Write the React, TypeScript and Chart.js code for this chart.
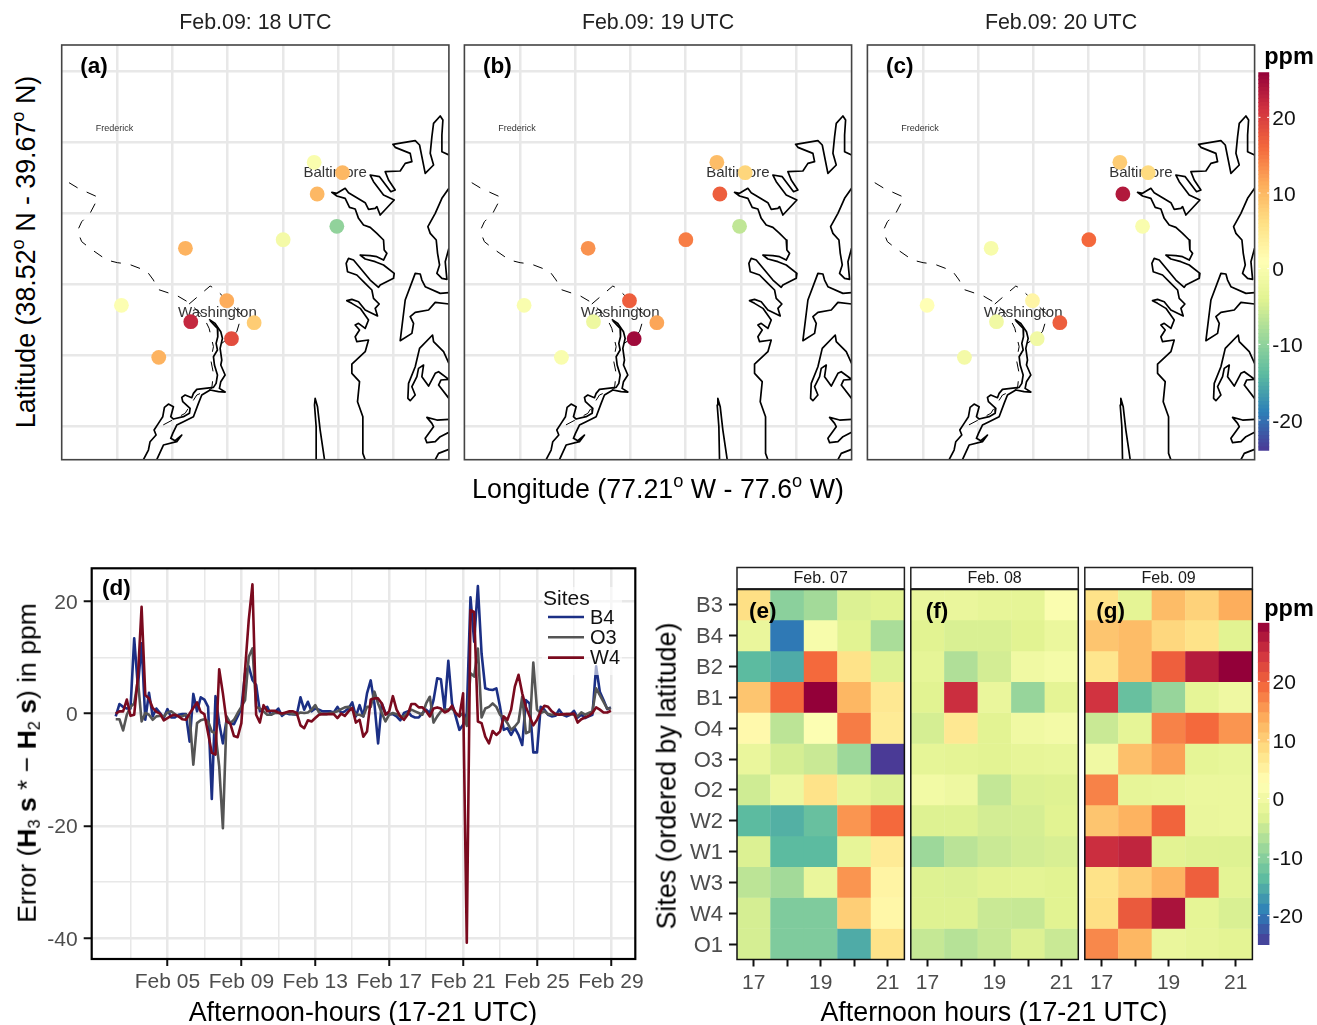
import React, { useEffect, useRef } from 'react';
import { Chart, registerables } from 'chart.js';
Chart.register(...registerables);

const FONT = '"Liberation Sans", Arial, sans-serif';

// ---------- map data (map units: 3 per screen pixel of the reference's panel) ----------
const SITE_X = [942, 1027, 951, 1010, 849, 556, 680, 364, 572, 762, 694, 476];
const SITE_Y = [487, 518, 582, 679, 719, 745, 902, 916, 965, 968, 1016, 1072];
const PPM_18UTC = [0, 10, 10, -10, -1, 10.5, 11, 0.5, 22, 8, 18.5, 10.5];
const PPM_19UTC = [9.5, 7, 17, -6.5, 14.5, 13, 17, 0, -2, 11.5, 25, 0];
const PPM_20UTC = [8, 6.5, 23.5, 0, 16, -0.5, 2.5, 1, -1.5, 17, -1.5, -1];
const CITY_NAMES = ['Frederick', 'Baltimore', 'Washington'];
const CITY_X = [343, 1005, 652];
const CITY_Y = [386, 518, 939];
const CITY_SIZES = [9, 15, 15];
const MAP_TITLES = ['Feb.09: 18 UTC', 'Feb.09: 19 UTC', 'Feb.09: 20 UTC'];
const MAP_TAGS = ['(a)', '(b)', '(c)'];
const LON_TICKS = [-77.4, -77.2, -77.0, -76.8, -76.6, -76.4];
const LAT_TICKS = [38.6, 38.8, 39.0, 39.2, 39.4, 39.6];

type P = [number, number];
const POTOMAC_W: P[] = [[630,962],[652,985],[653,1010],[648,1030],[652,1050],[640,1070],[643,1095],[652,1125],[648,1150],[640,1162],[590,1168],[580,1180],[575,1193],[555,1185],[545,1192],[548,1205],[570,1225],[568,1240],[550,1250],[520,1257],[512,1250],[520,1220],[505,1212],[493,1222],[488,1250],[475,1270],[462,1290],[468,1305],[450,1325],[445,1350],[430,1379]];
const POTOMAC_E: P[] = [[627,958],[645,970],[662,995],[667,1015],[660,1045],[665,1080],[662,1095],[675,1125],[662,1145],[658,1165],[675,1176],[655,1175],[630,1170],[605,1185],[595,1210],[580,1250],[550,1265],[530,1275],[518,1300],[512,1315],[525,1322],[545,1305],[530,1325],[490,1335],[470,1379]];
const SPIT: P[] = [[950,1379],[948,1280],[943,1215],[945,1195],[952,1220],[960,1290],[973,1379]];
const BAY_WEST: P[] = [[1346,465],[1325,455],[1325,405],[1328,360],[1320,348],[1300,370],[1295,410],[1290,460],[1300,495],[1275,520],[1258,435],[1245,422],[1178,433],[1185,442],[1230,460],[1235,485],[1215,490],[1200,513],[1155,515],[1165,540],[1185,570],[1172,575],[1138,530],[1110,525],[1120,545],[1150,585],[1182,600],[1140,645],[1130,620],[1125,625],[1105,628],[1095,608],[1045,578],[1035,565],[1010,580],[995,577],[1010,588],[1035,595],[1048,622],[1065,627],[1075,655],[1090,675],[1110,682],[1130,700],[1150,720],[1152,750],[1160,760],[1150,780],[1130,770],[1110,767],[1080,765],[1095,777],[1125,785],[1150,795],[1182,820],[1180,835],[1140,855],[1135,862],[1110,840],[1085,810],[1060,780],[1045,775],[1038,790],[1042,815],[1070,825],[1095,850],[1115,870],[1120,895],[1137,912],[1125,925],[1132,948],[1095,930],[1075,905],[1055,898],[1040,902],[1055,910],[1080,925],[1105,960],[1095,985],[1075,970],[1065,975],[1078,990],[1065,1010],[1070,1025],[1105,1020],[1095,1055],[1055,1092],[1055,1120],[1078,1145],[1072,1205],[1088,1250],[1088,1360],[1095,1379]];
const EAST_1: P[] = [[1346,565],[1325,595],[1305,640],[1283,680],[1290,700],[1308,720],[1312,760],[1318,795],[1310,820],[1325,835],[1340,838],[1335,785],[1346,745]];
const EAST_2: P[] = [[1346,878],[1320,880],[1275,860],[1265,840],[1260,822],[1245,820],[1215,900],[1200,1022],[1235,1000],[1240,970],[1230,950],[1245,937],[1285,930],[1305,907],[1346,912]];
const EAST_3: P[] = [[1346,1090],[1330,1055],[1300,1025],[1297,1005],[1258,1045],[1245,1100],[1225,1150],[1223,1195],[1230,1202],[1245,1185],[1235,1160],[1250,1130],[1255,1105],[1270,1095],[1265,1130],[1285,1158],[1305,1120],[1315,1115],[1346,1138],[1322,1140],[1315,1155],[1346,1195]];
const EAST_4: P[] = [[1346,1258],[1310,1260],[1280,1252],[1295,1270],[1300,1280],[1275,1315],[1280,1328],[1305,1325],[1320,1310],[1346,1297]];
const EAST_5: P[] = [[1305,1379],[1315,1360],[1346,1348]];
const COASTS = [POTOMAC_W, POTOMAC_E, SPIT, BAY_WEST, EAST_1, EAST_2, EAST_3, EAST_4, EAST_5];
const BORDER_1: P[] = [[207,548],[235,565],[295,592],[270,640],[245,665],[232,693],[245,725],[270,745],[320,780],[352,788],[385,792],[440,813],[460,840],[473,868],[533,888],[567,908],[610,950],[627,985],[640,1040],[632,1080],[640,1120],[635,1165],[590,1185],[555,1240],[485,1277]];
const BORDER_2: P[] = [[567,912],[630,858],[645,866],[725,945],[710,995],[665,1030]];
const BORDERS = [BORDER_1, BORDER_2];

// ---------- (d) series ----------
const B4 = [-0.5,1.7,1.2,0.9,0.9,13.4,4.8,12.5,-1.1,3.7,-0.5,0.9,0.1,-0.8,0.8,-0.7,-0.7,-0.2,-0.1,-0.1,-5,3.5,0.4,2.9,2.5,1.2,-15.2,3.1,-1.7,-5.3,-1.1,-1.7,-1.9,-0.5,0.9,7.2,8.4,6,5.1,0.4,0.9,1.2,-0.2,0.2,0.9,-0.4,0.1,-0.1,-0.1,-0.2,2.9,0.7,2.1,0.4,0.9,0.7,0.4,0.4,0.4,0.2,1.2,0.1,0.4,0.9,2,-0.5,1.5,-0.5,3.6,5.9,1.8,-5.3,1.8,0.1,-0.1,-0.1,-0.5,-1.2,0.1,0.4,-0.4,-0.7,-0.7,0.1,0.7,0.1,2.4,6.3,6.1,0.7,9.4,1.8,-0.5,-2.9,-2,0.1,20.7,12.8,22.7,10.7,4.5,4.3,4.2,4.5,1.2,-2.9,-2.6,-3.8,-2.6,-3.8,-5.6,2.4,1.8,-6.9,-6.9,1.2,0.7,-0.2,-0.5,-0.4,0.7,-0.2,-0.5,-0.2,0.5,-0.7,-0.2,-0.8,-0.5,-0.2,8.4,3.9,2.4,0.8,1.1];
const O3 = [-1,-1,-3,-0.2,1.2,1.8,6,-1.4,0.1,-0.2,-1.1,-0.5,-0.4,-0.5,0.2,0.4,-0.1,-0.5,-0.5,-0.2,-0.5,-9.1,-1.7,-1.2,-1,-1.4,-3.2,-3.5,-9.4,-20.4,-0.5,-1.7,-1.1,0.1,1.2,2.4,10.1,11.6,1.2,0.9,0.4,-0.2,-0.2,0.1,0.1,-0.1,0.1,0.1,-0.1,-0.1,0.2,0.1,0.2,0.7,1.5,0.2,-0.1,-0.1,0.1,0.2,0.4,0.8,1.1,1.2,0.7,-0.2,-0.2,-0.5,1.2,1.2,3.9,1.8,0.1,-1.4,-0.2,0.1,-0.1,-0.5,-0.5,0.1,0.7,0.4,0.1,-0.2,1.8,3,-1.6,-0.5,0.4,0.7,0.7,0.9,0.1,-0.5,0.1,-2.2,7.2,6.6,11.6,-0.7,0.9,1.2,1.8,1.2,-0.2,-0.8,-1.7,-2.9,-2.3,-1.5,3,-3.5,-3.2,9.1,0.7,0.1,0.4,-0.1,-0.2,-0.1,-0.1,-0.2,-0.1,-0.1,-0.2,-0.5,0.2,-0.2,0.1,0.4,4.5,3.3,2.1,0.9,0.9];
const W4 = [0,0.4,0.4,2.5,-0.4,-0.2,6.5,19,3.3,2.7,1,0.3,0,-1.2,-0.8,-0.4,-0.2,-0.5,-1,-1.1,0,1,2,0.3,-0.1,-3.5,-7,-7.3,7.9,3.6,-1.4,-1.8,-4,-4.2,-1.7,7.8,16.7,23,-0.2,-1.6,1.5,0.4,0.5,0.5,0.2,0,0.2,0.4,0.4,0.1,-2.1,-2.6,-1.2,-1.4,-0.8,-0.2,-0.1,-0.1,-0.1,-0.1,-0.8,0,-0.4,0.4,1,-1.6,-1.1,-4.1,-3.2,2.5,2.7,2.7,1.8,-0.2,0.4,3.1,0.7,-0.5,-1.1,-0.2,1.7,1.7,1.1,1.1,0.4,-0.5,0.9,1.1,0.9,0.2,0.5,1.4,0.1,-0.5,3.6,-40.8,18.4,18.1,-1.4,-1.7,-4.1,-5.3,-3.1,-3.8,-3.2,-0.5,-1.1,0.7,4.8,6.9,3.6,1.2,-0.5,-2.1,-1.1,0.4,1.4,1.2,0.4,-0.1,-0.2,-0.1,-0.1,-0.1,0,-1.6,-1,-0.7,-0.4,0.1,1.1,0.7,0.2,0.2,0.5];
const SERIES_NAMES = ['B4', 'O3', 'W4'];
const SERIES_COLORS = ['#1B2F85', '#555555', '#7A0A1E'];
const DAY_MAJOR = [5, 9, 13, 17, 21, 25, 29];
const DAY_MINOR = [3, 7, 11, 15, 19, 23, 27];
const DAY_LABELS = ['Feb 05', 'Feb 09', 'Feb 13', 'Feb 17', 'Feb 21', 'Feb 25', 'Feb 29'];
const ERR_MAJOR = [-40, -20, 0, 20];
const ERR_MINOR = [-30, -10, 10];

// ---------- (e)(f)(g) heatmaps ----------
const SITES = ['B3', 'B4', 'B2', 'B1', 'O4', 'O3', 'O2', 'W2', 'W1', 'W3', 'W4', 'O1'];
const HOURS = ['17', '18', '19', '20', '21'];
const FEB07 = [[8,-10,-8,-3.5,-3],[-1.5,-20,1,-3,-7.5],[-14,-15.5,19,7.5,-3.2],[11,19,30,12.5,6.5],[3.5,-6,2,17.5,6],[-1.5,-4,-5,-8.5,-25],[-4.5,-1,7.5,-2,-3.5],[-14,-15,-13,15.5,19],[-3.5,-14,-14,-2,6],[-6,-8,-1.5,15.5,4.5],[-4,-11,-11,10,4],[-4,-11,-11,-15.5,7.5]];
const FEB08 = [[-1.5,-1.5,-2,-2.2,1.5],[-3,-3.7,-3.7,-3,-1.2],[-2.2,-7,-4.2,-0.3,0.5],[-3,25,-1.5,-9,-2.5],[-4,6.5,-2.8,-0.3,0.3],[-2.2,-2.5,-2.8,-2,-1.8],[0,-0.7,-5.5,-3.5,-3.2],[-3.3,-3.3,-4.2,-4,-3],[-8.5,-6.2,-5,-4.3,-3.8],[-3.3,-3.5,-2.8,-2.6,-3],[-3.2,-3.2,-5,-5.2,-3],[-5.3,-6.5,-5.2,-3.4,-5]];
const FEB09 = [[7.5,-2.5,12,9.5,13.5],[11,12,9,7.5,-3],[7,12,20,27,30],[24.5,-13,-9,-2.2,-0.5],[-5,-2.2,17,19,15.5],[-0.3,11.5,14.5,-2.3,-1.8],[17,-2,-1.8,-1.2,-1.2],[11,13,19.5,-1.5,-1.2],[25,26,-2.8,-3.2,-3.3],[7.5,10,12.8,20,-2.6],[8,20.5,28,-2.3,-3.7],[16.5,12.5,-1.5,-2,-2.7]];

const SPECTRAL = ['#4A3A96', '#2C7FB8', '#5CBBA0', '#9DD89A', '#E2F392', '#FFFFB5', '#FEE085', '#FDAE5C', '#F4693C', '#D13340', '#930039'];
const PPM_TICKS = [-20, -10, 0, 10, 20];

const hex = (s: string) => [1, 3, 5].map((i) => parseInt(s.slice(i, i + 2), 16));
function spectral(v: number, lo: number, hi: number) {
  const t = Math.max(0, Math.min(0.99999, (v - lo) / (hi - lo))) * 10;
  const i = Math.floor(t);
  const f = t - i;
  const a = hex(SPECTRAL[i]);
  const b = hex(SPECTRAL[i + 1]);
  return `rgb(${a.map((c, k) => Math.round(c + (b[k] - c) * f)).join(',')})`;
}

type R = { l: number; t: number; r: number; b: number };
const MAP_RANGE = { lo: -24.05, hi: 25.95 };
const HEAT_RANGE = { lo: -25, hi: 30 };
const LON0 = -77.601, LON1 = -76.199, LAT0 = 38.507, LAT1 = 39.675;
const toLon = (u: number) => LON0 + ((u - 185) / 1161) * (LON1 - LON0);
const toLat = (v: number) => LAT1 - ((v - 135) / 1244) * (LAT1 - LAT0);

const frame = (color: string, w: number) => ({
  id: 'frame',
  afterDatasetsDraw(c: any) {
    const a = c.chartArea, x = c.ctx;
    x.save(); x.strokeStyle = color; x.lineWidth = w;
    x.strokeRect(a.left, a.top, a.right - a.left, a.bottom - a.top);
    x.restore();
  },
});

function mapConfig(values: number[]) {
  const lines = COASTS.map((p) => ({
    type: 'scatter', showLine: true, pointRadius: 0, borderColor: '#000', borderWidth: 1.7, tension: 0, order: 2,
    borderJoinStyle: 'round', data: p.map(([u, v]) => ({ x: toLon(u), y: toLat(v) })),
  }));
  const dashes = BORDERS.map((p) => ({
    type: 'scatter', showLine: true, pointRadius: 0, borderColor: '#000', borderWidth: 1, borderDash: [10, 10], tension: 0, order: 3,
    data: p.map(([u, v]) => ({ x: toLon(u), y: toLat(v) })),
  }));
  const sites = {
    type: 'scatter', order: 0, pointRadius: 7.4, borderWidth: 0, pointBorderWidth: 0,
    backgroundColor: values.map((v) => spectral(v, MAP_RANGE.lo, MAP_RANGE.hi)),
    pointBackgroundColor: values.map((v) => spectral(v, MAP_RANGE.lo, MAP_RANGE.hi)),
    data: SITE_X.map((u, i) => ({ x: toLon(u), y: toLat(SITE_Y[i]) })),
  };
  const grid = { color: '#E8E8E8', lineWidth: 2.5, drawTicks: false };
  return {
    type: 'scatter',
    data: { datasets: [sites, ...lines, ...dashes] },
    options: {
      scales: {
        x: { type: 'linear', min: LON0, max: LON1, grid, border: { display: false }, ticks: { display: false },
          afterBuildTicks: (s: any) => { s.ticks = LON_TICKS.map((value) => ({ value })); } },
        y: { type: 'linear', min: LAT0, max: LAT1, grid, border: { display: false }, ticks: { display: false },
          afterBuildTicks: (s: any) => { s.ticks = LAT_TICKS.map((value) => ({ value })); } },
      },
    },
    plugins: [
      {
        id: 'cities',
        beforeDatasetsDraw(c: any) {
          const x = c.ctx;
          x.save(); x.fillStyle = '#333'; x.textAlign = 'center'; x.textBaseline = 'middle';
          CITY_NAMES.forEach((n, i) => {
            x.font = `${CITY_SIZES[i]}px ${FONT}`;
            x.fillText(n, c.scales.x.getPixelForValue(toLon(CITY_X[i])), c.scales.y.getPixelForValue(toLat(CITY_Y[i])));
          });
          x.restore();
        },
      },
      frame('#444', 1.6),
    ],
  };
}

function errorConfig() {
  const series = [B4, O3, W4];
  const order = [3, 2, 1];
  const tickFont = { family: FONT, size: 21 };
  const isMajor = (list: number[], v: number) => list.includes(v);
  return {
    type: 'scatter',
    data: {
      datasets: series.map((vals, k) => ({
        label: SERIES_NAMES[k], showLine: true, pointRadius: 0, borderColor: SERIES_COLORS[k], borderWidth: 2.6, tension: 0,
        borderJoinStyle: 'round', order: order[k],
        data: vals.map((y, i) => ({ x: 2.2 + 0.2 * i, y })),
      })),
    },
    options: {
      scales: {
        x: {
          type: 'linear', min: 0.9, max: 30.32, border: { display: false },
          afterBuildTicks: (s: any) => { s.ticks = [...DAY_MINOR, ...DAY_MAJOR].sort((a, b) => a - b).map((value) => ({ value })); },
          grid: {
            color: '#E8E8E8', lineWidth: (c: any) => (isMajor(DAY_MAJOR, c.tick?.value) ? 2.5 : 1.5),
            tickColor: (c: any) => (isMajor(DAY_MAJOR, c.tick?.value) ? '#111' : 'rgba(0,0,0,0)'), tickWidth: 2, tickLength: 7,
          },
          ticks: { autoSkip: false, maxRotation: 0, padding: 4, color: '#4D4D4D', font: tickFont,
            callback: (v: number) => { const i = DAY_MAJOR.indexOf(v); return i < 0 ? '' : DAY_LABELS[i]; } },
        },
        y: {
          type: 'linear', min: -43.7, max: 25.87, border: { display: false },
          afterBuildTicks: (s: any) => { s.ticks = [...ERR_MINOR, ...ERR_MAJOR].sort((a, b) => a - b).map((value) => ({ value })); },
          grid: {
            color: '#E8E8E8', lineWidth: (c: any) => (isMajor(ERR_MAJOR, c.tick?.value) ? 2.5 : 1.5),
            tickColor: (c: any) => (isMajor(ERR_MAJOR, c.tick?.value) ? '#111' : 'rgba(0,0,0,0)'), tickWidth: 2, tickLength: 8,
          },
          ticks: { autoSkip: false, padding: 6, labelOffset: 1.7, color: '#4D4D4D', font: tickFont,
            callback: (v: number) => (isMajor(ERR_MAJOR, v) ? String(v) : '') },
        },
      },
    },
    plugins: [
      {
        id: 'sitesLegend',
        afterDatasetsDraw(c: any) {
          const x = c.ctx;
          x.save();
          x.fillStyle = 'rgba(255,255,255,0.6)';
          x.fillRect(512, 42, 80, 88);
          x.fillStyle = '#111'; x.textBaseline = 'middle'; x.textAlign = 'left';
          x.font = `21px ${FONT}`;
          x.fillText('Sites', 513, 54);
          c.data.datasets.forEach((d: any, i: number) => {
            const y = 72 + i * 20.3;
            x.strokeStyle = d.borderColor; x.lineWidth = 2.6;
            x.beginPath(); x.moveTo(518, y); x.lineTo(554, y); x.stroke();
            x.font = `20px ${FONT}`;
            x.fillText(d.label, 560, y + 1);
          });
          x.restore();
        },
      },
      frame('#000', 2.2),
    ],
  };
}

function heatConfig(values: number[][], showY: boolean) {
  const n = SITES.length;
  const tickFont = { family: FONT, size: 21 };
  return {
    type: 'bar',
    data: {
      labels: HOURS,
      datasets: values.map((row, r) => ({
        label: SITES[r], grouped: false, barPercentage: 1.01, categoryPercentage: 1, borderWidth: 0,
        data: row.map(() => [n - 1 - r, n - r + 0.015]),
        backgroundColor: row.map((v) => spectral(v, HEAT_RANGE.lo, HEAT_RANGE.hi)),
      })),
    },
    options: {
      scales: {
        x: {
          type: 'category', border: { display: false },
          grid: { offset: false, drawOnChartArea: false, tickColor: '#111', tickWidth: 2, tickLength: 7 },
          ticks: { autoSkip: false, maxRotation: 0, padding: 4, color: '#4D4D4D', font: tickFont,
            callback: (_: any, i: number) => (i % 2 === 0 ? HOURS[i] : '') },
        },
        y: {
          type: 'linear', min: 0, max: n, border: { display: false },
          afterBuildTicks: (s: any) => { s.ticks = SITES.map((_, i) => ({ value: i + 0.5 })); },
          grid: { drawOnChartArea: false, drawTicks: showY, tickColor: '#111', tickWidth: 2, tickLength: 8 },
          ticks: { display: showY, autoSkip: false, padding: 6, labelOffset: 1.5, color: '#4D4D4D', font: { family: FONT, size: 22 },
            callback: (v: number) => SITES[n - 1 - Math.floor(v)] },
        },
      },
    },
    plugins: [
      {
        id: 'strip',
        afterDraw(c: any) {
          const a = c.chartArea, x = c.ctx;
          x.save(); x.fillStyle = '#fff'; x.strokeStyle = '#222'; x.lineWidth = 1.5;
          x.fillRect(a.left, a.top - 22, a.right - a.left, 21.3);
          x.strokeRect(a.left, a.top - 22, a.right - a.left, 21.3);
          x.restore();
        },
      },
      frame('#111', 1.5),
    ],
  };
}

function barConfig(range: { lo: number; hi: number }, step: number, tickPad: number) {
  const values: number[] = [];
  for (let v = range.lo; v < range.hi - 1e-6; v += step) values.push(v);
  return {
    type: 'bar',
    data: {
      labels: [''],
      datasets: values.map((v) => ({
        grouped: false, barPercentage: 1, categoryPercentage: 1, borderWidth: 0,
        data: [[v, Math.min(v + step * 1.05, range.hi)]],
        backgroundColor: spectral(v + step / 2, range.lo, range.hi),
      })),
    },
    options: {
      scales: {
        x: { type: 'category', display: false },
        y: {
          type: 'linear', position: 'right', min: range.lo, max: range.hi, border: { display: false },
          afterBuildTicks: (s: any) => { s.ticks = PPM_TICKS.map((value) => ({ value })); },
          grid: { display: false, drawTicks: false },
          ticks: { padding: tickPad, labelOffset: 2, autoSkip: false, color: '#111', font: { family: FONT, size: 21 }, callback: (v: number) => String(v) },
        },
      },
    },
    plugins: [
      {
        id: 'whiteTicks',
        afterDatasetsDraw(c: any) {
          const a = c.chartArea, x = c.ctx, w = (a.right - a.left) / 5;
          x.save(); x.strokeStyle = '#fff'; x.lineWidth = 1;
          PPM_TICKS.forEach((t) => {
            const y = c.scales.y.getPixelForValue(t);
            x.beginPath();
            x.moveTo(a.left, y); x.lineTo(a.left + w, y);
            x.moveTo(a.right - w, y); x.lineTo(a.right, y);
            x.stroke();
          });
          x.restore();
        },
      },
    ],
  };
}

// Fixes the plot rectangle inside a canvas, whatever the axes would ask for.
function place(cfg: any, canvas: R, plot: R, yRight = false) {
  const o = cfg.options;
  o.responsive = false; o.maintainAspectRatio = false; o.animation = false;
  o.plugins = { legend: { display: false }, tooltip: { enabled: false }, title: { display: false } };
  const xVisible = o.scales.x.display !== false;
  o.layout = { autoPadding: false, padding: {
    top: plot.t - canvas.t,
    right: yRight ? 0 : canvas.r - plot.r,
    left: yRight ? plot.l - canvas.l : 0,
    bottom: xVisible ? 0 : canvas.b - plot.b,
  } };
  o.scales.y.afterFit = (s: any) => { s.width = yRight ? canvas.r - plot.r : plot.l - canvas.l; };
  if (xVisible) o.scales.x.afterFit = (s: any) => { s.height = canvas.b - plot.b; };
  return cfg;
}

const MAP_PLOTS: R[] = [
  { l: 61.7, t: 45, r: 448.9, b: 459.7 },
  { l: 464.4, t: 45, r: 851.6, b: 459.7 },
  { l: 867.4, t: 45, r: 1254.6, b: 459.7 },
];
const HEAT_PLOTS: R[] = [
  { l: 737, t: 589.5, r: 904.4, b: 959.5 },
  { l: 910.8, t: 589.5, r: 1078.3, b: 959.5 },
  { l: 1084.8, t: 589.5, r: 1252.4, b: 959.5 },
];
const rect = (l: number, t: number, r: number, b: number): R => ({ l, t, r, b });

const PANELS: { canvas: R; make: () => any }[] = [
  ...[PPM_18UTC, PPM_19UTC, PPM_20UTC].map((v, i) => {
    const p = MAP_PLOTS[i];
    const canvas = rect(Math.floor(p.l) - 4, 30, Math.ceil(p.r) + 4, 475);
    return { canvas, make: () => place(mapConfig(v), canvas, p) };
  }),
  { canvas: rect(1250, 45, 1317, 475), make: () => place(barConfig(MAP_RANGE, 0.5, 3), rect(1250, 45, 1317, 475), rect(1258.3, 72.3, 1269.3, 450.7), true) },
  { canvas: rect(30, 545, 650, 1000), make: () => place(errorConfig(), rect(30, 545, 650, 1000), rect(91.7, 568.3, 635.3, 959)) },
  ...[FEB07, FEB08, FEB09].map((v, i) => {
    const p = HEAT_PLOTS[i];
    const canvas = i === 0 ? rect(680, 545, 908, 1000) : rect(Math.floor(p.l) - 3, 545, Math.ceil(p.r) + 2, 1000);
    return { canvas, make: () => place(heatConfig(v, i === 0), canvas, p) };
  }),
  { canvas: rect(1250, 600, 1317, 975), make: () => place(barConfig(HEAT_RANGE, 1.72, 3), rect(1250, 600, 1317, 975), rect(1257.8, 622.7, 1269.5, 945), true) },
];

function Txt({ x, y, size, bold, rot, color, left, children }: any) {
  const transform = `translate(${left ? '0' : '-50%'},-50%)${rot ? ' rotate(-90deg)' : ''}`;
  return (
    <div style={{ position: 'absolute', left: x, top: y, transform, whiteSpace: 'nowrap', fontFamily: FONT,
      fontSize: size, fontWeight: bold ? 700 : 400, color: color || '#000', lineHeight: 1 }}>
      {children}
    </div>
  );
}
const Sup = ({ children }: any) => <sup style={{ fontSize: '0.68em', lineHeight: 0, verticalAlign: '0.6em' }}>{children}</sup>;
const Sub = ({ children }: any) => <sub style={{ fontSize: '0.62em', lineHeight: 0, verticalAlign: '-0.25em' }}>{children}</sub>;

export default function App() {
  const refs = useRef<(HTMLCanvasElement | null)[]>([]);
  useEffect(() => {
    const charts = PANELS.map((p, i) => new Chart(refs.current[i] as any, p.make()));
    return () => charts.forEach((c) => c.destroy());
  }, []);
  return (
    <div style={{ position: 'absolute', left: 0, top: 0, width: 1317, height: 1025, background: '#fff', overflow: 'hidden' }}>
      {PANELS.map((p, i) => (
        <canvas key={i} ref={(el) => { refs.current[i] = el; }} width={p.canvas.r - p.canvas.l} height={p.canvas.b - p.canvas.t}
          style={{ position: 'absolute', left: p.canvas.l, top: p.canvas.t, width: p.canvas.r - p.canvas.l, height: p.canvas.b - p.canvas.t }} />
      ))}
      {MAP_TITLES.map((t, i) => (
        <Txt key={t} x={(MAP_PLOTS[i].l + MAP_PLOTS[i].r) / 2} y={22.5} size={21.4} color="#222">{t}</Txt>
      ))}
      {MAP_TAGS.map((t, i) => (
        <Txt key={t} x={MAP_PLOTS[i].l + 18.5} y={66} size={22.5} bold left>{t}</Txt>
      ))}
      <Txt x={26} y={252} size={26.8} rot>Latitude (38.52<Sup>o</Sup> N - 39.67<Sup>o</Sup> N)</Txt>
      <Txt x={658} y={489} size={26.8}>Longitude (77.21<Sup>o</Sup> W - 77.6<Sup>o</Sup> W)</Txt>
      <Txt x={1289} y={57} size={23.5} bold>ppm</Txt>
      <Txt x={102} y={588} size={22.5} bold left>(d)</Txt>
      <Txt x={27} y={763} size={26.5} rot>Error (<b>H</b><Sub>3</Sub> <b>s</b> * − <b>H</b><Sub>2</Sub> <b>s</b>) in ppm</Txt>
      <Txt x={363} y={1012} size={26.8}>Afternoon-hours (17-21 UTC)</Txt>
      <Txt x={994} y={1012} size={26.8}>Afternoon hours (17-21 UTC)</Txt>
      <Txt x={667} y={776} size={26.8} rot>Sites (ordered by latitude)</Txt>
      {['Feb. 07', 'Feb. 08', 'Feb. 09'].map((t, i) => (
        <Txt key={t} x={(HEAT_PLOTS[i].l + HEAT_PLOTS[i].r) / 2} y={578} size={16} color="#1a1a1a">{t}</Txt>
      ))}
      {['(e)', '(f)', '(g)'].map((t, i) => (
        <Txt key={t} x={HEAT_PLOTS[i].l + [12, 15, 11.5][i]} y={611} size={22.5} bold left>{t}</Txt>
      ))}
      <Txt x={1289} y={609} size={23.5} bold>ppm</Txt>
    </div>
  );
}
